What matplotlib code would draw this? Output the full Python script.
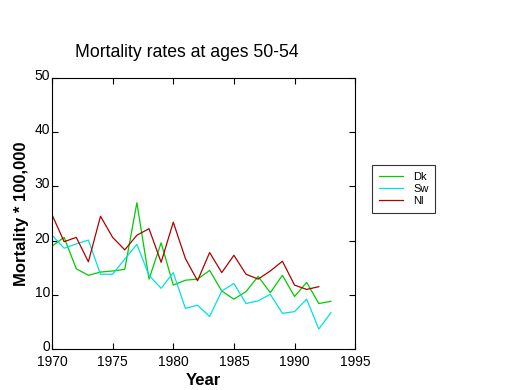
import matplotlib
matplotlib.use("Agg")
import matplotlib.pyplot as plt
from matplotlib.transforms import ScaledTranslation

plt.rcParams['font.family'] = ['Liberation Sans', 'DejaVu Sans']

years = list(range(1970, 1994))
dk = [19.0, 20.6, 14.8, 13.6, 14.2, 14.4, 14.7, 27.0, 12.9, 19.6, 11.8, 12.7,
      12.9, 14.5, 10.7, 9.2, 10.6, 13.4, 10.4, 13.6, 9.7, 12.3, 8.4, 8.8]
sw = [21.0, 18.6, 19.4, 20.1, 13.8, 13.8, 16.6, 19.3, 13.6, 11.2, 14.1, 7.5,
      8.1, 6.0, 10.7, 12.1, 8.4, 8.9, 10.1, 6.6, 6.9, 9.2, 3.7, 6.7]
nl = [24.8, 19.8, 20.6, 16.1, 24.5, 20.6, 18.3, 21.0, 22.2, 16.0, 23.4, 16.7,
      12.6, 17.8, 14.1, 17.3, 13.8, 12.9, 14.4, 16.2, 11.8, 11.0, 11.5]

fig = plt.figure(figsize=(5.2, 3.9), dpi=100)
ax = fig.add_axes([0.1, 0.105, 0.583, 0.695])

ax.plot(years, dk, color='#00cc00', lw=0.9, label='Dk')
ax.plot(years, sw, color='#00e0e0', lw=0.9, label='Sw')
ax.plot(years[:len(nl)], nl, color='#b00000', lw=0.9, label='Nl')

ax.set_xlim(1970, 1995)
ax.set_ylim(0, 50)
ax.set_xticks(range(1970, 1996, 5))
ax.set_yticks(range(0, 51, 10))
ax.tick_params(direction='in', top=True, right=True, labelsize=10, length=4)
ax.tick_params(axis='y', pad=1.5)
ax.tick_params(axis='x', pad=4)

# nudge y labels up a little so "0" clears "1970"
shift = ScaledTranslation(0, 2.5 / 72, fig.dpi_scale_trans)
for lbl in ax.get_yticklabels():
    lbl.set_transform(lbl.get_transform() + shift)

fig.text(0.36, 0.866, 'Mortality rates at ages 50-54', fontsize=12.7,
         ha='center', va='center')
ax.set_xlabel('Year', fontsize=12, fontweight='bold', labelpad=3)
ax.set_ylabel('Mortality * 100,000', fontsize=12, fontweight='bold', labelpad=4)

leg = ax.legend(loc='center left', bbox_to_anchor=(1.056, 0.59), fontsize=8,
                frameon=True, fancybox=False, edgecolor='black',
                handlelength=2.2, handletextpad=0.9, borderpad=0.6,
                labelspacing=0.2, borderaxespad=0)
leg.get_frame().set_linewidth(0.8)

fig.savefig('out.png', dpi=100)
